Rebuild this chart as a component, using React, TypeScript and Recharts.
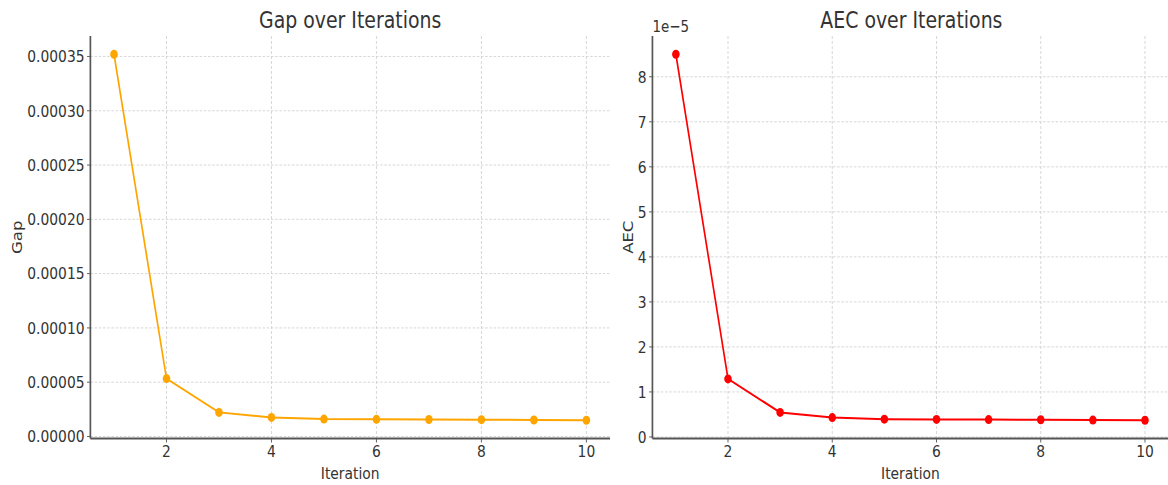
import { CartesianGrid, Line, LineChart, XAxis, YAxis } from 'recharts'

const iterations = [1, 2, 3, 4, 5, 6, 7, 8, 9, 10]
const gapValues = [
  0.000352, 0.0000533, 0.0000222, 0.0000176, 0.000016, 0.0000158, 0.0000156, 0.0000155,
  0.0000152, 0.000015,
]
const aecValues = [
  8.5e-5, 1.29e-5, 0.545e-5, 0.43e-5, 0.395e-5, 0.39e-5, 0.385e-5, 0.383e-5, 0.375e-5,
  0.372e-5,
]
const iterTicks = [2, 4, 6, 8, 10]
const gapTicks = [0, 0.00005, 0.0001, 0.00015, 0.0002, 0.00025, 0.0003, 0.00035]
const aecTicks = [0, 1e-5, 2e-5, 3e-5, 4e-5, 5e-5, 6e-5, 7e-5, 8e-5]

// the reference is squashed horizontally, so draw wide and scale x
const SX = 0.84
const FONT = "'DejaVu Sans', 'Noto Sans', sans-serif"
const TEXT = '#333333'
const AXIS = '#555555'

const padded = (vals: number[]): [number, number] => {
  const lo = Math.min(...vals)
  const hi = Math.max(...vals)
  const m = (hi - lo) * 0.05
  return [lo - m, hi + m]
}

const gapRows = iterations.map((iter, i) => ({ iter, value: gapValues[i] }))
const aecRows = iterations.map((iter, i) => ({ iter, value: aecValues[i] }))

const tickStyle = { fontFamily: FONT, fontSize: 16.5, fill: TEXT }

function Panel({
  rows,
  color,
  yTicks,
  yFormat,
  yLabel,
  yLabelOffset,
  axisWidth,
  width,
  right,
}: {
  rows: { iter: number; value: number }[]
  color: string
  yTicks: number[]
  yFormat: (v: number) => string
  yLabel: string
  yLabelOffset: number
  axisWidth: number
  width: number
  right: number
}) {
  return (
    <LineChart
      width={width}
      height={485}
      data={rows}
      margin={{ top: 36, right, bottom: 0, left: 0 }}
    >
      <CartesianGrid
        stroke="#cfcfcf"
        strokeDasharray="3 2"
        strokeWidth={0.9}
        horizontalValues={yTicks}
        verticalValues={iterTicks}
      />
      <XAxis
        dataKey="iter"
        type="number"
        domain={[0.55, 10.45]}
        allowDataOverflow
        ticks={iterTicks}
        height={46.5}
        tick={tickStyle}
        tickSize={4}
        tickMargin={3}
        stroke={AXIS}
        axisLine={{ stroke: AXIS, strokeWidth: 1.8 }}
        tickLine={{ stroke: AXIS }}
        label={{
          value: 'Iteration',
          position: 'insideBottom',
          offset: 6,
          style: { fontFamily: FONT, fontSize: 16.5, fill: TEXT },
        }}
      />
      <YAxis
        type="number"
        domain={padded(rows.map((r) => r.value))}
        allowDataOverflow
        ticks={yTicks}
        tickFormatter={yFormat}
        width={axisWidth}
        tick={tickStyle}
        tickSize={4}
        tickMargin={3}
        stroke={AXIS}
        axisLine={{ stroke: AXIS, strokeWidth: 2 }}
        tickLine={{ stroke: AXIS }}
        label={{
          value: yLabel,
          angle: -90,
          position: 'insideLeft',
          offset: yLabelOffset,
          style: { fontFamily: FONT, fontSize: 16.5, fill: TEXT, textAnchor: 'middle' },
        }}
      />
      <Line
        dataKey="value"
        stroke={color}
        strokeWidth={2}
        dot={{ r: 4.5, fill: color, stroke: color, strokeWidth: 0 }}
        activeDot={false}
        isAnimationActive={false}
      />
    </LineChart>
  )
}

export default function App() {
  return (
    <div
      style={{
        position: 'absolute',
        left: 0,
        top: 0,
        width: 1168,
        height: 485,
        overflow: 'hidden',
        background: '#fff',
      }}
    >
      <div
        style={{
          position: 'absolute',
          left: 0,
          top: 0,
          width: 1168 / SX,
          height: 485,
          transform: `scaleX(${SX})`,
          transformOrigin: '0 0',
        }}
      >
        <div style={{ position: 'absolute', left: 0, top: 0 }}>
          <Panel
            rows={gapRows}
            color="#FFA500"
            yTicks={gapTicks}
            yFormat={(v) => v.toFixed(5)}
            yLabel="Gap"
            yLabelOffset={20}
            axisWidth={107.6}
            width={760}
            right={33.8}
          />
        </div>
        <div style={{ position: 'absolute', left: 690, top: 0 }}>
          <Panel
            rows={aecRows}
            color="#FF0000"
            yTicks={aecTicks}
            yFormat={(v) => String(Math.round(v * 1e5))}
            yLabel="AEC"
            yLabelOffset={57.6}
            axisWidth={86.7}
            width={720}
            right={19}
          />
        </div>
        <svg
          width={1168 / SX}
          height={485}
          style={{ position: 'absolute', left: 0, top: 0, pointerEvents: 'none' }}
        >
          <text x={416.9} y={28} textAnchor="middle" fontFamily={FONT} fontSize={22.5} fill={TEXT}>
            Gap over Iterations
          </text>
          <text x={1085} y={28} textAnchor="middle" fontFamily={FONT} fontSize={22.5} fill={TEXT}>
            AEC over Iterations
          </text>
          <text x={776.7} y={32.5} fontFamily={FONT} fontSize={16} fill={TEXT}>
            1e−5
          </text>
        </svg>
      </div>
    </div>
  )
}
